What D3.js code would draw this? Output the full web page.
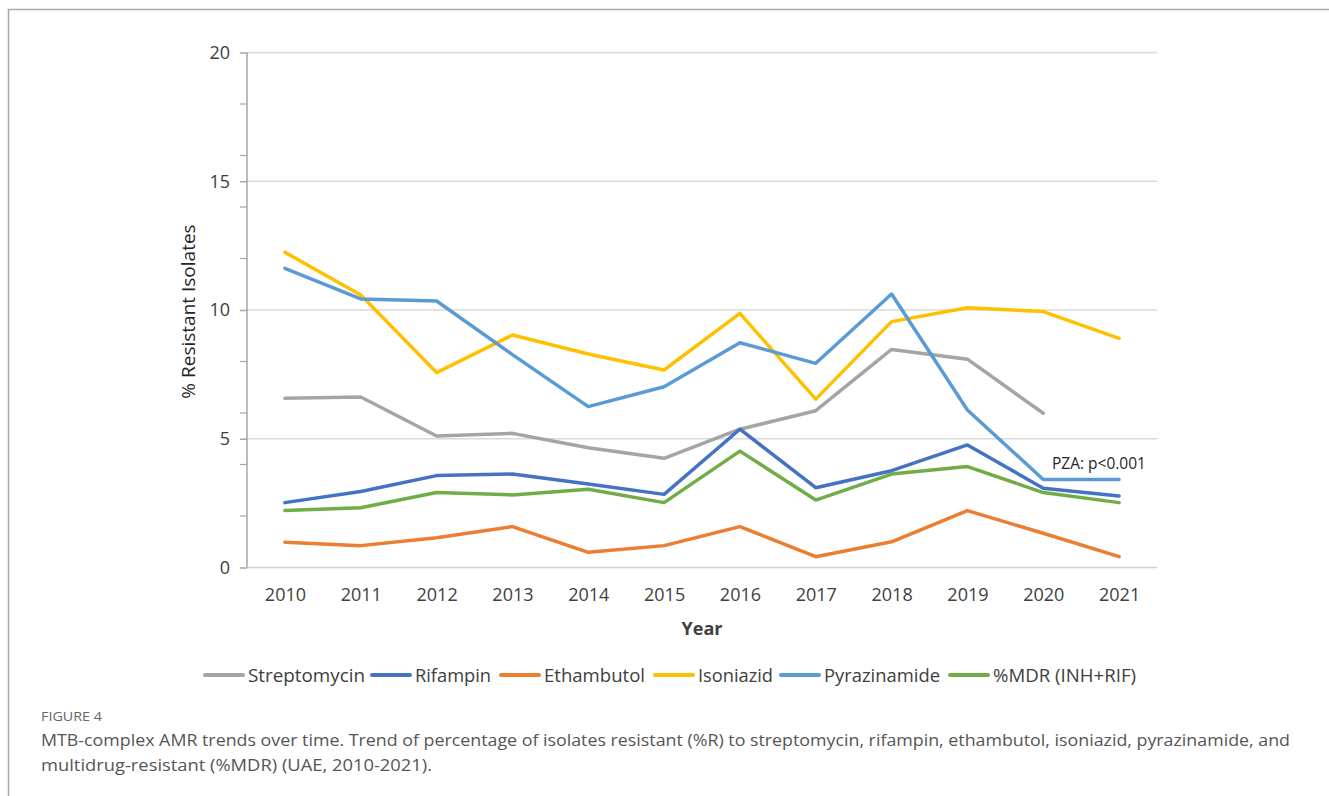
<!DOCTYPE html>
<html>
<head>
<meta charset="utf-8">
<script src="https://cdn.jsdelivr.net/npm/d3@7"></script>
<style>
  body { margin: 0; background: #fff; }
  svg { display: block; }
</style>
</head>
<body>
<svg id="chart" width="1329" height="796"></svg>
<script>
// data
const years = ['2010', '2011', '2012', '2013', '2014', '2015', '2016', '2017', '2018', '2019', '2020', '2021'];
const streptomycin = [6.55, 6.6, 5.09, 5.19, 4.63, 4.22, 5.35, 6.07, 8.45, 8.07, 5.97, null];
const rifampin = [2.5, 2.93, 3.55, 3.61, 3.22, 2.82, 5.35, 3.08, 3.74, 4.74, 3.06, 2.76];
const ethambutol = [0.96, 0.83, 1.14, 1.57, 0.57, 0.83, 1.57, 0.4, 0.98, 2.19, 1.31, 0.4];
const isoniazid = [12.22, 10.56, 7.55, 9.01, 8.27, 7.65, 9.85, 6.52, 9.53, 10.07, 9.92, 8.88];
const pyrazinamide = [11.6, 10.41, 10.33, 8.25, 6.23, 7.0, 8.71, 7.91, 10.6, 6.1, 3.4, 3.4];
const mdr = [2.19, 2.3, 2.89, 2.8, 3.02, 2.5, 4.5, 2.6, 3.61, 3.9, 2.89, 2.5];
const yTicks = [0, 5, 10, 15, 20];
const yMinorTicks = [2, 4, 6, 8, 12, 14, 16, 18];

const series = [
  { name: 'Streptomycin', values: streptomycin, color: '#A5A5A5' },
  { name: 'Rifampin', values: rifampin, color: '#4472C4' },
  { name: 'Ethambutol', values: ethambutol, color: '#ED7D31' },
  { name: 'Isoniazid', values: isoniazid, color: '#FFC000' },
  { name: 'Pyrazinamide', values: pyrazinamide, color: '#5B9BD5' },
  { name: '%MDR (INH+RIF)', values: mdr, color: '#70AD47' }
];

const svg = d3.select('#chart');
const plotLeft = 247, plotRight = 1157, plotTop = 52, plotBottom = 567;
const font = 'Open Sans, sans-serif';

const x = d3.scalePoint().domain(years).range([plotLeft, plotRight]).padding(0.5);
const y = d3.scaleLinear().domain([0, 20]).range([plotBottom, plotTop]);

// frame lines of the figure panel
svg.append('line').attr('x1', 8).attr('x2', 1329).attr('y1', 9.5).attr('y2', 9.5)
  .attr('stroke', '#a8a8a8').attr('stroke-width', 1.5);
svg.append('line').attr('x1', 8.5).attr('x2', 8.5).attr('y1', 9).attr('y2', 796)
  .attr('stroke', '#a8a8a8').attr('stroke-width', 1.5);

// gridlines
svg.append('g')
  .selectAll('line')
  .data(yTicks.filter(d => d > 0))
  .enter().append('line')
  .attr('x1', plotLeft).attr('x2', plotRight)
  .attr('y1', d => y(d) + 0.5).attr('y2', d => y(d) + 0.5)
  .attr('stroke', '#d9d9d9').attr('stroke-width', 1.5);

// x axis line
svg.append('line').attr('x1', plotLeft).attr('x2', plotRight)
  .attr('y1', plotBottom + 0.5).attr('y2', plotBottom + 0.5)
  .attr('stroke', '#d0d0d0').attr('stroke-width', 1.5);

// y axis with major ticks
const yAxis = d3.axisLeft(y).tickValues(yTicks).tickSize(7).tickPadding(10).tickFormat(d3.format('d'));
const gy = svg.append('g').attr('transform', `translate(${plotLeft},0.5)`).call(yAxis);
gy.select('.domain').attr('stroke', '#a6a6a6').attr('stroke-width', 1.5).attr('d', `M0,${plotTop}V${plotBottom}`);
gy.selectAll('.tick line').attr('stroke', '#a6a6a6').attr('stroke-width', 1.5);
gy.selectAll('.tick text')
  .attr('font-family', font).attr('font-size', 18).attr('fill', '#404040');

// minor ticks
svg.append('g').attr('transform', `translate(${plotLeft},0.5)`)
  .selectAll('line')
  .data(yMinorTicks)
  .enter().append('line')
  .attr('x1', -7).attr('x2', 0)
  .attr('y1', d => y(d)).attr('y2', d => y(d))
  .attr('stroke', '#a6a6a6').attr('stroke-width', 1.2);

// x axis labels
const xAxis = d3.axisBottom(x).tickSize(0).tickPadding(21);
const gx = svg.append('g').attr('transform', `translate(0,${plotBottom})`).call(xAxis);
gx.select('.domain').remove();
gx.selectAll('.tick text')
  .attr('font-family', font).attr('font-size', 18).attr('fill', '#404040');

// axis titles
svg.append('text')
  .attr('transform', `translate(195,${(plotTop + plotBottom) / 2 + 2}) rotate(-90)`)
  .attr('text-anchor', 'middle')
  .attr('font-family', font).attr('font-size', 19).attr('fill', '#262626')
  .text('% Resistant Isolates');

svg.append('text')
  .attr('x', (plotLeft + plotRight) / 2).attr('y', 635)
  .attr('text-anchor', 'middle')
  .attr('font-family', font).attr('font-size', 18).attr('font-weight', 'bold').attr('fill', '#404040')
  .text('Year');

// lines
const line = d3.line()
  .defined(d => d.v != null)
  .x(d => x(d.year))
  .y(d => y(d.v));

svg.append('g')
  .selectAll('path')
  .data(series)
  .enter().append('path')
  .attr('d', s => line(s.values.map((v, i) => ({ year: years[i], v: v }))))
  .attr('fill', 'none')
  .attr('stroke', s => s.color)
  .attr('stroke-width', 3.5)
  .attr('stroke-linejoin', 'round')
  .attr('stroke-linecap', 'round');

// annotation
svg.append('text')
  .attr('x', 1052).attr('y', 469)
  .attr('font-family', font).attr('font-size', 15.5).attr('fill', '#262626')
  .text('PZA: p<0.001');

// legend
const legendX = [205, 372, 501, 655, 781, 950];
const legendTextLen = [117, 76, 101, 75, 116, 143];
const legend = svg.append('g')
  .selectAll('g')
  .data(series)
  .enter().append('g')
  .attr('transform', (d, i) => `translate(${legendX[i]},675)`);
legend.append('line')
  .attr('x1', 0).attr('x2', 38).attr('y1', 0).attr('y2', 0)
  .attr('stroke', d => d.color).attr('stroke-width', 4).attr('stroke-linecap', 'round');
legend.append('text')
  .attr('x', 43).attr('y', 6.5)
  .attr('font-family', font).attr('font-size', 18).attr('fill', '#404040')
  .attr('textLength', (d, i) => legendTextLen[i])
  .attr('lengthAdjust', 'spacingAndGlyphs')
  .text(d => d.name);

// caption
svg.append('text')
  .attr('x', 41).attr('y', 721)
  .attr('font-family', font).attr('font-size', 12).attr('fill', '#666')
  .attr('textLength', 61).attr('lengthAdjust', 'spacingAndGlyphs')
  .text('FIGURE 4');
svg.append('text')
  .attr('x', 41).attr('y', 746)
  .attr('font-family', font).attr('font-size', 16.5).attr('fill', '#555')
  .attr('textLength', 1249).attr('lengthAdjust', 'spacingAndGlyphs')
  .text('MTB-complex AMR trends over time. Trend of percentage of isolates resistant (%R) to streptomycin, rifampin, ethambutol, isoniazid, pyrazinamide, and');
svg.append('text')
  .attr('x', 41).attr('y', 771)
  .attr('font-family', font).attr('font-size', 16.5).attr('fill', '#555')
  .attr('textLength', 391).attr('lengthAdjust', 'spacingAndGlyphs')
  .text('multidrug-resistant (%MDR) (UAE, 2010-2021).');
</script>
</body>
</html>
